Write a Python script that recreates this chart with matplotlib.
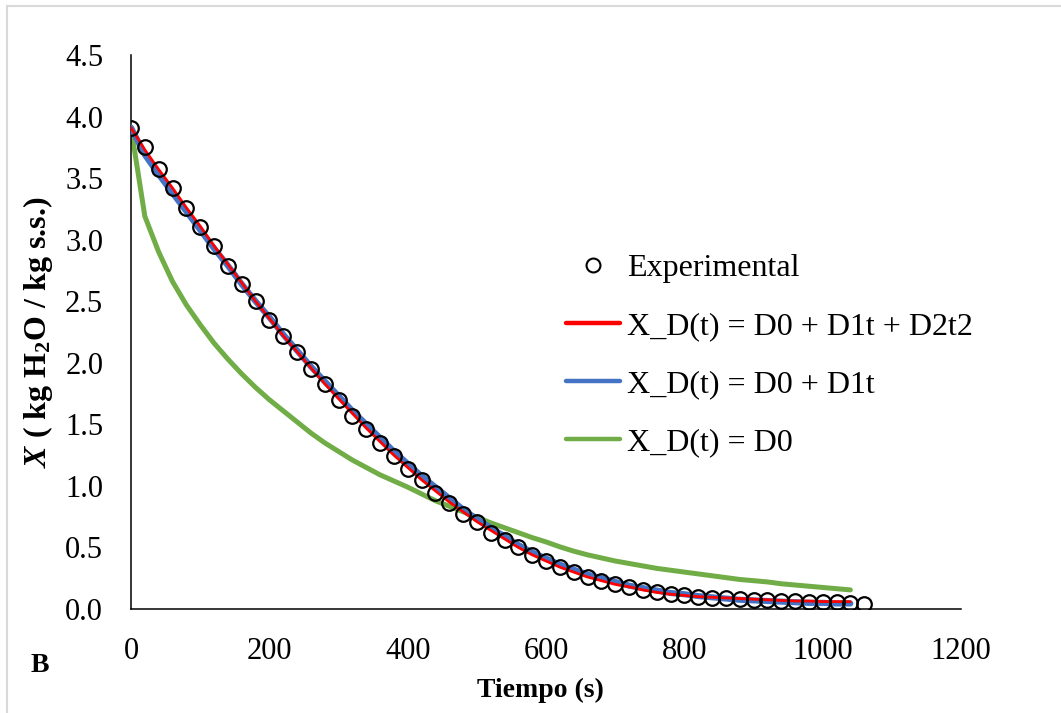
import numpy as np
import matplotlib
matplotlib.use('Agg')
import matplotlib.pyplot as plt
from matplotlib.lines import Line2D

plt.rcParams['font.family'] = 'Liberation Serif'
plt.rcParams['mathtext.fontset'] = 'custom'
plt.rcParams['mathtext.rm'] = 'Liberation Serif:bold'
plt.rcParams['mathtext.it'] = 'Liberation Serif:bold:italic'
plt.rcParams['mathtext.bf'] = 'Liberation Serif:bold'

# experimental points, every 20 s
t_exp = np.arange(0, 1061, 20)
x_exp = [3.91, 3.75, 3.57, 3.42, 3.26, 3.10, 2.95, 2.79, 2.64, 2.50,
         2.35, 2.22, 2.09, 1.95, 1.83, 1.70, 1.57, 1.46, 1.35, 1.24,
         1.14, 1.05, 0.94, 0.86, 0.77, 0.71, 0.62, 0.56, 0.50, 0.44,
         0.39, 0.34, 0.30, 0.26, 0.23, 0.20, 0.18, 0.155, 0.14, 0.12,
         0.11, 0.10, 0.09, 0.09, 0.08, 0.075, 0.07, 0.065, 0.065, 0.06,
         0.055, 0.055, 0.05, 0.04]

# model curves, every 20 s up to 1040 s
t_mod = np.arange(0, 1041, 20)
x_d0d1d2 = [3.91, 3.73, 3.57, 3.42, 3.26, 3.11, 2.95, 2.80, 2.65, 2.50,
            2.36, 2.22, 2.09, 1.96, 1.83, 1.71, 1.59, 1.47, 1.36, 1.25,
            1.15, 1.05, 0.96, 0.87, 0.79, 0.71, 0.64, 0.57, 0.50, 0.44,
            0.39, 0.34, 0.30, 0.26, 0.23, 0.20, 0.18, 0.155, 0.135, 0.12,
            0.11, 0.10, 0.095, 0.09, 0.085, 0.08, 0.075, 0.07, 0.065, 0.065,
            0.06, 0.06, 0.06]
x_d0d1 = [3.91, 3.69, 3.53, 3.38, 3.23, 3.08, 2.93, 2.79, 2.64, 2.50,
          2.37, 2.23, 2.10, 1.97, 1.85, 1.73, 1.61, 1.50, 1.39, 1.28,
          1.18, 1.08, 0.99, 0.90, 0.81, 0.73, 0.66, 0.59, 0.52, 0.46,
          0.41, 0.36, 0.32, 0.28, 0.25, 0.22, 0.19, 0.17, 0.15, 0.13,
          0.12, 0.105, 0.095, 0.085, 0.075, 0.07, 0.065, 0.06, 0.055, 0.05,
          0.05, 0.045, 0.045]
x_d0 = [3.91, 3.19, 2.90, 2.66, 2.47, 2.31, 2.16, 2.03, 1.91, 1.80,
        1.70, 1.61, 1.52, 1.43, 1.35, 1.28, 1.21, 1.15, 1.09, 1.04,
        0.99, 0.935, 0.88, 0.835, 0.79, 0.745, 0.70, 0.66, 0.62, 0.58,
        0.545, 0.505, 0.47, 0.44, 0.415, 0.39, 0.37, 0.35, 0.33, 0.315,
        0.30, 0.285, 0.27, 0.255, 0.24, 0.23, 0.22, 0.205, 0.195, 0.185,
        0.175, 0.165, 0.155]

fig = plt.figure(figsize=(10.61, 7.13), dpi=100)
ax = fig.add_axes([131/1061, 1-609/713, 830/1061, 554/713])

ax.plot(t_mod, x_d0, color='#70AD47', lw=3.6, solid_capstyle='round', zorder=2)
ax.plot(t_mod, x_d0d1, color='#4472C4', lw=4.4, solid_capstyle='round', zorder=3)
ax.plot(t_mod, x_d0d1d2, color='#FF0000', lw=2.0, solid_capstyle='round', zorder=4)
ax.plot(t_exp, x_exp, 'o', ms=10.5, mfc='none', mec='black', mew=1.6, zorder=5)

ax.set_xlim(0, 1200)
ax.set_ylim(0, 4.5)
ax.set_xticks(np.arange(0, 1201, 200))
ax.set_yticks(np.arange(0, 4.51, 0.5))
ax.set_yticklabels(['%.1f' % v for v in np.arange(0, 4.51, 0.5)])
ax.tick_params(axis='both', length=0, labelsize=22)
ax.tick_params(axis='x', pad=20)
ax.tick_params(axis='y', pad=20)
for s in ['top', 'right']:
    ax.spines[s].set_visible(False)
for s in ['left', 'bottom']:
    ax.spines[s].set_linewidth(1.1)
    ax.spines[s].set_color('black')

ax.set_xlabel('Tiempo (s)', fontsize=20, fontweight='bold')
ax.xaxis.set_label_coords(0.493, -0.125)
ax.set_ylabel(r'$\mathit{X}$ ( kg H$_\mathrm{2}$O / kg s.s.)', fontsize=23, fontweight='bold')
ax.yaxis.set_label_coords(-0.092, 0.50)

fig.text(40/1061, 1-665/713, 'B', fontsize=20, fontweight='bold', ha='center', va='center')

handles = [
    Line2D([], [], ls='none', marker='o', ms=10, mfc='none', mec='black', mew=1.5),
    Line2D([], [], color='#FF0000', lw=3.2, solid_capstyle='round'),
    Line2D([], [], color='#4472C4', lw=3.2, solid_capstyle='round'),
    Line2D([], [], color='#70AD47', lw=3.2, solid_capstyle='round'),
]
labels = ['Experimental', 'X_D(t) = D0 + D1t + D2t2', 'X_D(t) = D0 + D1t', 'X_D(t) = D0']
fig.legend(handles, labels, loc='center left', bbox_to_anchor=(566/1061, 1-355.5/713),
           frameon=False, fontsize=23, handlelength=1.7, handletextpad=0.2,
           labelspacing=0.9, borderpad=0, borderaxespad=0)

# light outer chart border (top and left only visible)
fig.add_artist(Line2D([7/1061, 1], [1-6/713, 1-6/713], color='#D9D9D9', lw=1.5))
fig.add_artist(Line2D([7/1061, 7/1061], [0, 1-6/713], color='#D9D9D9', lw=1.5))

fig.savefig('out.png', dpi=100)
